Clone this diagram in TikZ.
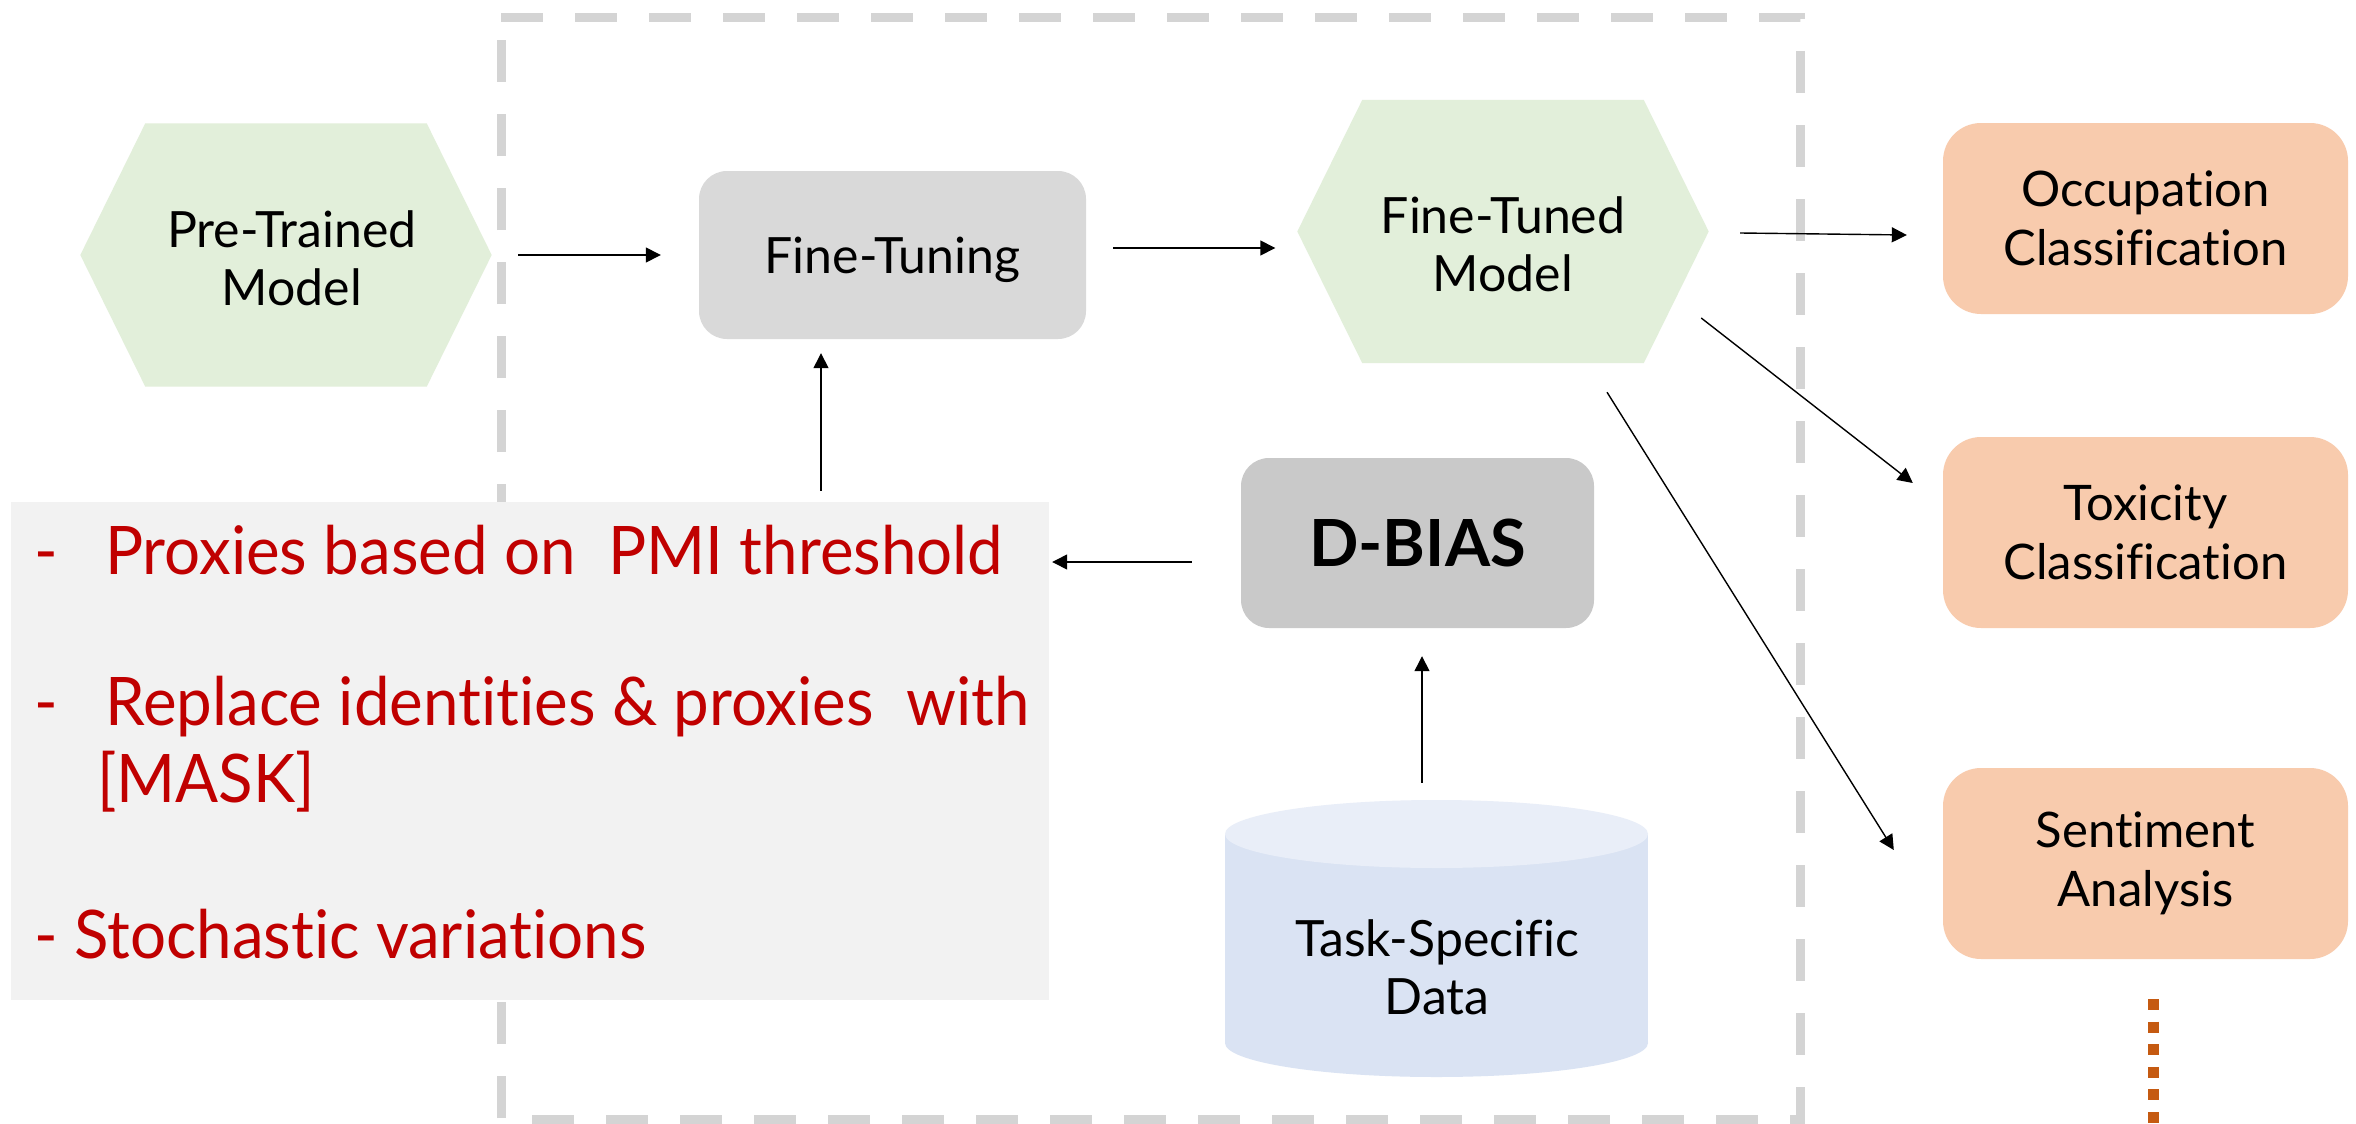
\documentclass[tikz,border=0pt]{standalone}
\usepackage{fontspec}
\setmainfont{Lato}[Ligatures=NoCommon]
\newfontfamily\notefont{Lato}[Ligatures=NoCommon, FakeStretch=0.95]
\usetikzlibrary{arrows.meta}

\definecolor{hexgreen}{HTML}{E2EFDA}
\definecolor{tunegray}{HTML}{D9D9D9}
\definecolor{biasgray}{HTML}{C9C9C9}
\definecolor{peach}{HTML}{F8CBAD}
\definecolor{notegray}{HTML}{F2F2F2}
\definecolor{notered}{HTML}{C00000}
\definecolor{cylbody}{HTML}{DAE3F3}
\definecolor{cyltop}{HTML}{E9EEF8}
\definecolor{framegray}{HTML}{D4D4D4}
\definecolor{dotorange}{HTML}{C55A11}

% hexagon outline around an (invisible) node of the same size
\newcommand\drawhexagon[1]{%
  \fill[hexgreen] (#1.west) -- ([xshift=65pt]#1.north west) -- ([xshift=-65pt]#1.north east)
    -- (#1.east) -- ([xshift=-65pt]#1.south east) -- ([xshift=65pt]#1.south west) -- cycle;}

\tikzset{
  basefont/.style={font=\fontsize{50}{58}\selectfont},
  hexnode/.style={minimum width=411pt, minimum height=263pt, inner sep=0pt},
  hexlabel/.style={basefont, align=center, inner sep=0pt},
  tunebox/.style={fill=tunegray, rounded corners=28pt, minimum width=387pt, minimum height=168pt,
                  inner sep=0pt, text depth=0pt, basefont},
  biasbox/.style={fill=biasgray, rounded corners=28pt, minimum width=353pt, minimum height=170pt,
                  inner sep=0pt, font=\fontsize{65}{78}\selectfont\bfseries},
  taskbox/.style={fill=peach, rounded corners=38pt, minimum width=405pt, minimum height=191pt,
                  inner sep=0pt, align=center, font=\fontsize{49}{59}\selectfont},
  notebox/.style={fill=notegray, minimum width=1038pt, minimum height=498pt, inner sep=0pt},
  noteline/.style={anchor=base west, inner sep=0pt, text=notered, font=\notefont\fontsize{67}{80}\selectfont},
  arr/.style={line width=1.4pt, -{Triangle[length=15pt,width=15pt]}},
  framedash/.style={draw=framegray, line width=9pt, dash pattern=on 42pt off 32pt},
  dotline/.style={draw=dotorange, line width=11pt, dash pattern=on 11pt off 11.6pt},
}

\begin{document}
\begin{tikzpicture}[x=1pt, y=-1pt]
  \useasboundingbox (0,0) rectangle (2356,1124);
  \fill[white] (0,0) rectangle (2356,1124);

  % dashed frame around the debiasing stage
  \draw[framedash] (501,18) -- (1800,18) -- (1800,1119) -- (501,1119) -- cycle;

  % models
  \node[hexnode] (pre) at (286,255) {};
  \drawhexagon{pre}
  \node[hexlabel] (pretxt) at (292,258) {Pre-Trained\\Model};

  \node[hexnode] (ftm) at (1503,231.5) {};
  \drawhexagon{ftm}
  \node[hexlabel] (ftmtxt) at (1503,244) {Fine-Tuned\\Model};

  % process boxes
  \node[tunebox] (tune) at (892.5,255) {Fine-Tuning};
  \node[biasbox] (bias) at (1417.5,543) {D-BIAS};

  % downstream tasks
  \node[taskbox] (occ)  at (2145.5,218.5) {Occupation\\Classification};
  \node[taskbox] (tox)  at (2145.5,532.5) {Toxicity\\Classification};
  \node[taskbox] (sent) at (2145.5,863.5) {Sentiment\\Analysis};

  % task-specific data store
  \fill[cylbody] (1225,834) rectangle (1648,1043);
  \fill[cylbody] (1436.5,1043) ellipse [x radius=211.5, y radius=34];
  \fill[cyltop]  (1436.5,834)  ellipse [x radius=211.5, y radius=34];
  \node[minimum width=423pt, minimum height=277pt, inner sep=0pt] (data) at (1436.5,938.5) {};
  \node[hexlabel] (datatxt) at (1437,967) {Task-Specific\\Data};

  % D-BIAS steps
  \node[notebox] (note) at (530,751) {};
  \node[noteline] (s1d) at (34,574) {-};
  \node[noteline] (s1)  at (105,574) {Proxies based on\ \ PMI threshold};
  \node[noteline] (s2d) at (34,725) {-};
  \node[noteline] (s2)  at (105,725) {Replace identities \& proxies\ \ with};
  \node[noteline] (s2b) at (97,802) {[MASK]};
  \node[noteline] (s3)  at (34,958) {- Stochastic variations};

  % connectors
  \draw[arr, shorten <=26.5pt, shorten >=38pt] (pre.east) -- (tune.west);
  \draw[arr, shorten <=27pt, shorten >=22pt] ([yshift=7pt]tune.east) -- ([yshift=-16.5pt]ftm.west);
  \draw[arr] ([xshift=31.5pt,yshift=-1.5pt]ftm.east) -- ([xshift=-36pt,yshift=-16.5pt]occ.west);
  \draw[arr] ([xshift=-7.5pt,yshift=-86.5pt]ftm.east) -- ([xshift=-30pt,yshift=49.5pt]tox.west);
  \draw[arr] ([xshift=104pt,yshift=-29pt]ftm.south) -- ([xshift=-49pt,yshift=13.5pt]sent.west);
  \draw[arr, shorten <=17pt, shorten >=28pt] ([xshift=-14.5pt]data.north) -- ([xshift=4.5pt]bias.south);
  \coordinate (biasout) at ([yshift=-19pt]bias.west);
  \draw[arr, shorten <=49pt, shorten >=3pt] (biasout) -- (biasout -| note.east);
  \coordinate (tunein) at ([xshift=-71.5pt]tune.south);
  \draw[arr, shorten <=11pt, shorten >=14pt] (note.north -| tunein) -- (tunein);

  % more tasks follow
  \coordinate (moretop) at (2153,999);
  \coordinate (morebot) at (2153,1124);
  \draw[dotline] (moretop) -- (morebot);
\end{tikzpicture}
\end{document}
